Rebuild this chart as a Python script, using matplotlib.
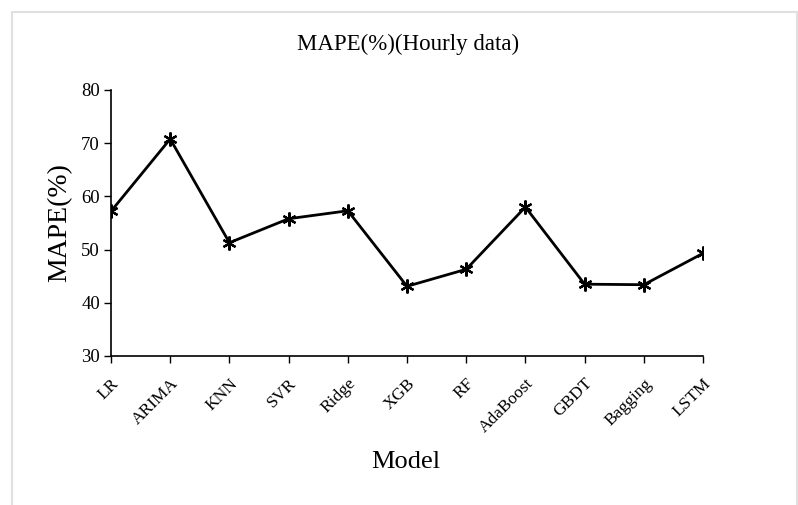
import matplotlib.pyplot as plt
from matplotlib.patches import Rectangle

models = ['LR', 'ARIMA', 'KNN', 'SVR', 'Ridge', 'XGB', 'RF',
          'AdaBoost', 'GBDT', 'Bagging', 'LSTM']
mape = [57.2, 70.8, 51.3, 55.8, 57.3, 43.1, 46.3, 58.0, 43.5, 43.4, 49.3]
y_ticks = [30, 40, 50, 60, 70, 80]

plt.rcParams['font.family'] = ['Liberation Serif', 'DejaVu Serif']

fig = plt.figure(figsize=(7.98, 5.05), dpi=100)
# light grey frame round the chart area, open at the bottom
fig.patches.append(Rectangle((12 / 798, -0.05), 785 / 798, 1.05 - 12 / 505,
                             transform=fig.transFigure, fill=False,
                             edgecolor='#e0e0e0', linewidth=1.5))

ax = fig.add_axes([111 / 798, 1 - 356 / 505, 592 / 798, 266 / 505])
x = list(range(len(models)))
ax.plot(x, mape, color='black', linewidth=2.0,
        marker=(6, 2, 0), markersize=10, markeredgewidth=1.6,
        markeredgecolor='black')

ax.set_xlim(0, len(models) - 1)
ax.set_ylim(30, 80)
ax.set_yticks(y_ticks)
ax.set_xticks(x)
ax.set_xticklabels(models, rotation=45, ha='right', rotation_mode='anchor')
ax.tick_params(direction='out', length=5, width=1, colors='black')
ax.tick_params(axis='x', labelsize=12.5, pad=9)
ax.tick_params(axis='y', labelsize=13.5, pad=3)
ax.spines['top'].set_visible(False)
ax.spines['right'].set_visible(False)
ax.spines['left'].set_linewidth(1.2)
ax.spines['bottom'].set_linewidth(1.2)

ax.set_ylabel('MAPE(%)', fontsize=20, labelpad=6)
fig.text(406 / 798, 1 - 462 / 505, 'Model', ha='center', va='center', fontsize=19)
fig.text(408 / 798, 1 - 44 / 505, 'MAPE(%)(Hourly data)', ha='center',
         va='center', fontsize=16.5)

fig.savefig('out.png', dpi=100)
